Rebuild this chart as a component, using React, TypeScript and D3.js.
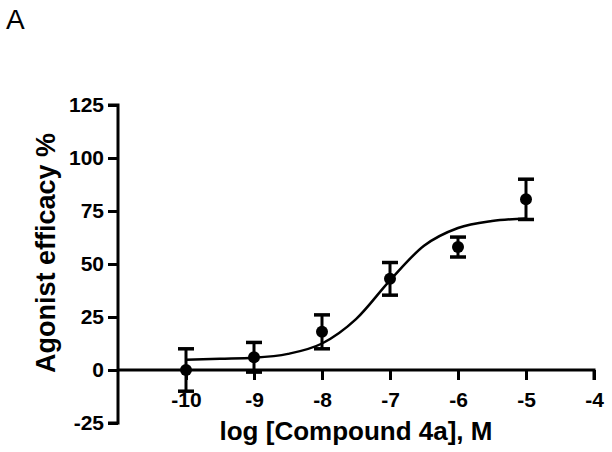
import React, { useEffect, useRef } from "react";
import * as d3 from "d3";

// measured points (log M, efficacy %, SEM)
const logDose = [-10, -9, -8, -7, -6, -5];
const efficacy = [0, 6, 18, 43, 58, 80.5];
const sem = [10, 7, 8, 7.7, 4.7, 9.5];

// fitted curve
const curveX = [-10, -9.5, -9, -8.5, -8, -7.5, -7, -6.5, -6, -5.5, -5];
const curveY = [4.8, 5.3, 5.8, 7.6, 12.5, 24, 42.3, 58.6, 67, 70.3, 71.5];

const xTicks = [-10, -9, -8, -7, -6, -5, -4];
const yTicks = [-25, 0, 25, 50, 75, 100, 125];

const W = 612;
const H = 452;

export default function App() {
  const ref = useRef<SVGSVGElement>(null);

  useEffect(() => {
    const svg = d3.select(ref.current);
    svg.selectAll("*").remove();

    const x = d3.scaleLinear().domain([-11, -4]).range([118, 594]);
    const y = d3.scaleLinear().domain([-25, 125]).range([423, 105]);
    const font = "'Liberation Sans', Arial, sans-serif";

    // panel letter
    svg
      .append("text")
      .attr("x", 6)
      .attr("y", 29)
      .style("font-family", font)
      .style("font-size", "28px")
      .text("A");

    // y axis
    const yAxis = svg
      .append("g")
      .attr("transform", "translate(" + x(-11) + ",0)")
      .call(d3.axisLeft(y).tickValues(yTicks).tickSize(10).tickPadding(4).tickFormat((d) => String(d)));
    yAxis.select(".domain").attr("stroke", "#000").attr("stroke-width", 3).attr("d", "M-10," + y(125) + "H0V" + y(-25) + "H-10");
    yAxis.selectAll(".tick line").attr("stroke", "#000").attr("stroke-width", 3);
    yAxis
      .selectAll(".tick text")
      .attr("fill", "#000")
      .style("font-family", font)
      .style("font-weight", "bold")
      .style("font-size", "21px");

    // x axis, drawn at y = 0
    const xAxis = svg
      .append("g")
      .attr("transform", "translate(0," + y(0) + ")")
      .call(d3.axisBottom(x).tickValues(xTicks).tickSize(10).tickPadding(12).tickFormat((d) => String(d)));
    xAxis.select(".domain").attr("stroke", "#000").attr("stroke-width", 3).attr("d", "M" + x(-11) + ",0H" + x(-4) + "V10");
    xAxis.selectAll(".tick line").attr("stroke", "#000").attr("stroke-width", 3);
    xAxis
      .selectAll(".tick text")
      .attr("fill", "#000")
      .style("font-family", font)
      .style("font-weight", "bold")
      .style("font-size", "21px");

    // axis titles
    svg
      .append("text")
      .attr("x", 356)
      .attr("y", 440)
      .attr("text-anchor", "middle")
      .style("font-family", font)
      .style("font-weight", "bold")
      .style("font-size", "26px")
      .text("log [Compound 4a], M");

    svg
      .append("text")
      .attr("transform", "translate(55,253) rotate(-90)")
      .attr("text-anchor", "middle")
      .style("font-family", font)
      .style("font-weight", "bold")
      .style("font-size", "27px")
      .text("Agonist efficacy %");

    // fit curve
    const line = d3
      .line<number>()
      .x((d, i) => x(curveX[i]))
      .y((d) => y(d))
      .curve(d3.curveMonotoneX);
    svg
      .append("path")
      .attr("d", line(curveY))
      .attr("fill", "none")
      .attr("stroke", "#000")
      .attr("stroke-width", 2.5);

    // error bars
    const pts = logDose.map((d, i) => ({ x: d, y: efficacy[i], e: sem[i] }));
    const bars = svg.append("g").selectAll("g").data(pts).enter().append("g");
    bars
      .append("line")
      .attr("x1", (d) => x(d.x))
      .attr("x2", (d) => x(d.x))
      .attr("y1", (d) => y(d.y + d.e))
      .attr("y2", (d) => y(d.y - d.e))
      .attr("stroke", "#000")
      .attr("stroke-width", 3);
    [1, -1].forEach((s) => {
      bars
        .append("line")
        .attr("x1", (d) => x(d.x) - 8)
        .attr("x2", (d) => x(d.x) + 8)
        .attr("y1", (d) => y(d.y + s * d.e))
        .attr("y2", (d) => y(d.y + s * d.e))
        .attr("stroke", "#000")
        .attr("stroke-width", 3.5);
    });
    bars
      .append("circle")
      .attr("cx", (d) => x(d.x))
      .attr("cy", (d) => y(d.y))
      .attr("r", 6)
      .attr("fill", "#000");
  }, []);

  return (
    <svg
      ref={ref}
      width={W}
      height={H}
      style={{ position: "absolute", left: 0, top: 0, background: "#fff" }}
    />
  );
}
